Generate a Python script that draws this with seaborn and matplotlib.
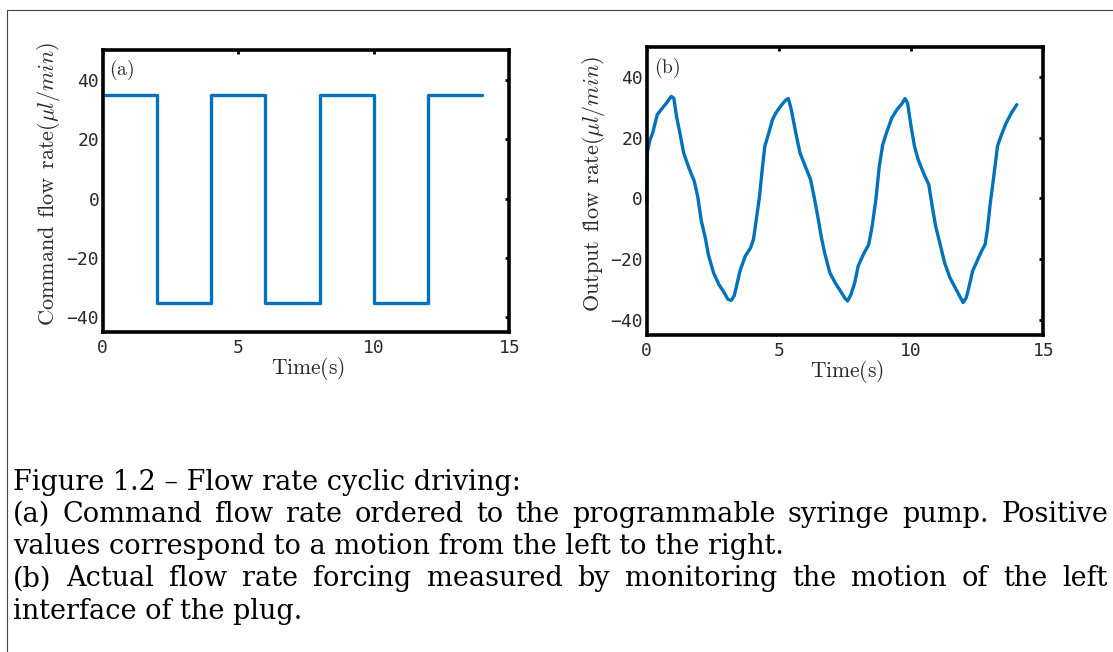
import numpy as np
import pandas as pd
import matplotlib
matplotlib.use("Agg")
import matplotlib.pyplot as plt
from matplotlib.lines import Line2D
import seaborn as sns

# (a) command flow rate, square wave (steps-post)
t_cmd = [0, 2, 4, 6, 8, 10, 12, 14]
q_cmd = [35, -35, 35, -35, 35, -35, 35, 35]

# (b) measured output flow rate
t_out = [0.0, 0.03, 0.13, 0.23, 0.4, 0.6, 0.8, 0.93, 1.03, 1.13, 1.27, 1.4, 1.6, 1.8, 1.93,
         2.07, 2.23, 2.33, 2.53, 2.73, 2.93, 3.07, 3.2, 3.31, 3.4, 3.53, 3.73, 3.93, 4.04,
         4.13, 4.27, 4.37, 4.47, 4.6, 4.76, 4.89, 5.07, 5.27, 5.36, 5.47, 5.64, 5.8, 6.0,
         6.2, 6.33, 6.47, 6.6, 6.73, 6.93, 7.13, 7.33, 7.51, 7.6, 7.73, 7.87, 8.0, 8.2,
         8.4, 8.53, 8.67, 8.8, 8.93, 9.07, 9.27, 9.47, 9.67, 9.77, 9.87, 10.0, 10.13,
         10.27, 10.47, 10.67, 10.8, 10.93, 11.07, 11.27, 11.47, 11.67, 11.87, 11.97,
         12.09, 12.2, 12.33, 12.47, 12.67, 12.8, 12.89, 13.0, 13.13, 13.27, 13.4, 13.6,
         13.8, 14.0]
q_out = [-1.4, 15.5, 19.4, 21.6, 27.6, 29.8, 32.0, 33.6, 33.0, 27.0, 21.0, 15.0, 10.0, 5.7, 0.7,
         -7.5, -13.5, -18.4, -24.5, -28.3, -31.0, -33.2, -33.6, -32.1, -28.9, -23.9, -19.0,
         -16.3, -13.5, -8.0, 0.7, 9.5, 17.2, 21.0, 26.0, 28.2, 30.4, 32.5, 32.9, 29.3, 21.6,
         15.0, 10.6, 6.2, 0.7, -5.8, -12.4, -17.9, -24.5, -27.8, -30.5, -33.0, -33.8, -31.6,
         -27.8, -22.3, -18.4, -15.2, -9.1, -0.4, 10.6, 17.7, 21.6, 26.5, 29.3, 31.4, 32.9,
         31.4, 23.8, 17.2, 12.8, 8.4, 4.6, -2.5, -9.1, -14.0, -21.2, -26.1, -29.4, -32.7,
         -34.3, -32.7, -28.9, -23.9, -21.2, -17.3, -15.2, -10.2, -1.4, 7.3, 17.2, 20.5,
         24.9, 28.2, 30.9]

xticks = [0, 5, 10, 15]
yticks = [-40, -20, 0, 20, 40]

caption = [
    "Figure 1.2 \u2013 Flow rate cyclic driving:",
    "(a) Command flow rate ordered to the programmable syringe pump. Positive",
    "values correspond to a motion from the left to the right.",
    "(b) Actual flow rate forcing measured by monitoring the motion of the left",
    "interface of the plug.",
]
justified = [False, True, False, True, False]

sns.set_theme(style="white")
plt.rcParams["mathtext.fontset"] = "cm"
plt.rcParams["font.family"] = ["DejaVu Sans Mono"]

blue = "#0072BD"
txt = "#2a2a2a"

fig = plt.figure(figsize=(11.13, 6.52), dpi=100)
ax1 = fig.add_axes([0.0923, 0.4903, 0.3653, 0.4330])
ax2 = fig.add_axes([0.5810, 0.4862, 0.3563, 0.4422])

cmd = pd.DataFrame({"t": t_cmd, "q": q_cmd})
out = pd.DataFrame({"t": t_out, "q": q_out})
sns.lineplot(data=cmd, x="t", y="q", ax=ax1, color=blue, lw=2.4, drawstyle="steps-post")
sns.lineplot(data=out, x="t", y="q", ax=ax2, color=blue, lw=2.4, sort=False, estimator=None)

labels = [r"$\mathrm{Command\;\,flow\;\,rate}(\mu l/min)$",
          r"$\mathrm{Output\;\,flow\;\,rate}(\mu l/min)$"]
for ax, ylab, tag, tagpos in [(ax1, labels[0], "(a)", (0.047, 0.929)),
                              (ax2, labels[1], "(b)", (0.052, 0.928))]:
    ax.set_xlim(0, 15)
    ax.set_ylim(-45, 50)
    ax.set_xticks(xticks)
    ax.set_yticks(yticks)
    ax.set_xticklabels([str(v) for v in xticks])
    ax.set_yticklabels([str(v).replace("-", "\u2212") for v in yticks])
    ax.tick_params(direction="in", length=3, width=2, color="black",
                   labelsize=13, labelcolor=txt, top=True, right=True)
    ax.tick_params(axis="x", pad=5)
    ax.tick_params(axis="y", pad=2.5)
    for s in ax.spines.values():
        s.set_linewidth(2.6)
        s.set_color("black")
        s.set_visible(True)
    ax.set_xlabel(r"$\mathrm{Time(s)}$", fontsize=15.5, color=txt)
    ax.set_ylabel(ylab, fontsize=16, color=txt)
    ax.xaxis.set_label_coords(0.505, -0.08)
    ax.yaxis.set_label_coords(-0.10, 0.525)
    ax.text(tagpos[0], tagpos[1], r"$\mathrm{" + tag + "}$", transform=ax.transAxes,
            fontsize=14, color=txt, ha="center", va="center")
for l in ax2.get_lines():
    l.set_clip_on(False)

# page frame edges
fig.add_artist(Line2D([7 / 1113, 1], [1 - 10 / 652, 1 - 10 / 652], color="#444444", lw=0.8))
fig.add_artist(Line2D([7 / 1113, 7 / 1113], [0, 1 - 10 / 652], color="#444444", lw=0.8))

# caption, lines 2 and 4 justified to the right margin
renderer = fig.canvas.get_renderer()
x0, x1 = 13, 1108
cap_kw = dict(fontsize=19.5, family="DejaVu Serif", color="black", va="baseline", ha="left")
for i, line in enumerate(caption):
    y = 1 - (489.5 + 32.3 * i) / 652
    if not justified[i]:
        fig.text(x0 / 1113, y, line, **cap_kw)
        continue
    words = line.split(" ")
    widths = []
    for w in words:
        t = fig.text(0, 0, w, **cap_kw)
        widths.append(t.get_window_extent(renderer).width)
        t.remove()
    gap = (x1 - x0 - sum(widths)) / (len(words) - 1)
    x = x0
    for w, wd in zip(words, widths):
        fig.text(x / 1113, y, w, **cap_kw)
        x += wd + gap

fig.savefig("out.png", dpi=100)
